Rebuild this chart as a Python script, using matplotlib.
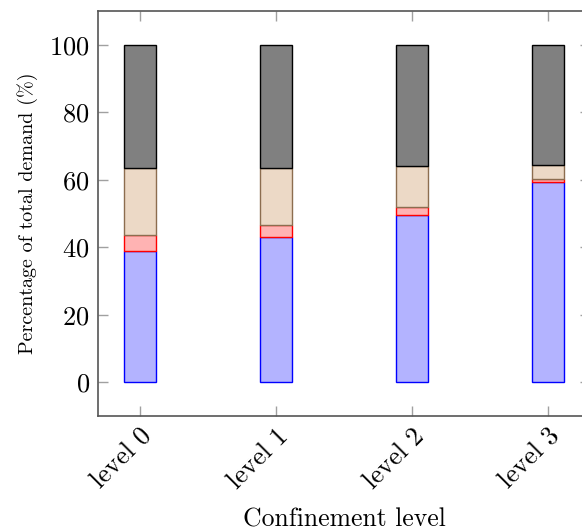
import matplotlib
matplotlib.use("Agg")
import matplotlib.pyplot as plt

plt.rcParams['font.family'] = 'cmr10'
plt.rcParams['mathtext.fontset'] = 'cm'
plt.rcParams['axes.formatter.use_mathtext'] = True

levels = ['level 0', 'level 1', 'level 2', 'level 3']
blue_part = [39.0, 42.9, 49.5, 59.4]
red_part = [4.5, 3.8, 2.5, 0.8]
tan_part = [20.1, 16.9, 12.0, 4.3]
gray_part = [36.4, 36.4, 36.0, 35.5]

fig = plt.figure(figsize=(5.82, 5.32), dpi=100)
ax = fig.add_axes([98 / 582, 116 / 532, 492 / 582, 405 / 532])

x = list(range(len(levels)))
w = 0.235
bottom = [0.0] * len(levels)
series = [
    (blue_part, '#b3b3ff', '#0000ff'),
    (red_part, '#ffb3b3', '#ff0000'),
    (tan_part, '#ecd9c6', '#8c6d4f'),
    (gray_part, '#808080', '#000000'),
]
for vals, fc, ec in series:
    ax.bar(x, vals, w, bottom=bottom, color=fc, edgecolor=ec, linewidth=1.0)
    bottom = [b + v for b, v in zip(bottom, vals)]

ax.set_xlim(-0.31, 3.31)
ax.set_ylim(-10, 110)
ax.set_xticks(x)
ax.set_xticklabels(levels, rotation=45, ha='right', va='top', rotation_mode='anchor',
                   fontsize=19.5)
ax.set_yticks([0, 20, 40, 60, 80, 100])
ax.tick_params(direction='in', length=7, width=1, color='#a0a0a0', labelsize=19,
               top=True, right=True, pad=6)
for s in ax.spines.values():
    s.set_color('#555555')
    s.set_linewidth(1.2)
ax.set_ylabel('Percentage of total demand (%)', fontsize=14.5, labelpad=8)
ax.set_xlabel('Confinement level', fontsize=18.5, labelpad=10)

fig.savefig('out.png', dpi=100)
